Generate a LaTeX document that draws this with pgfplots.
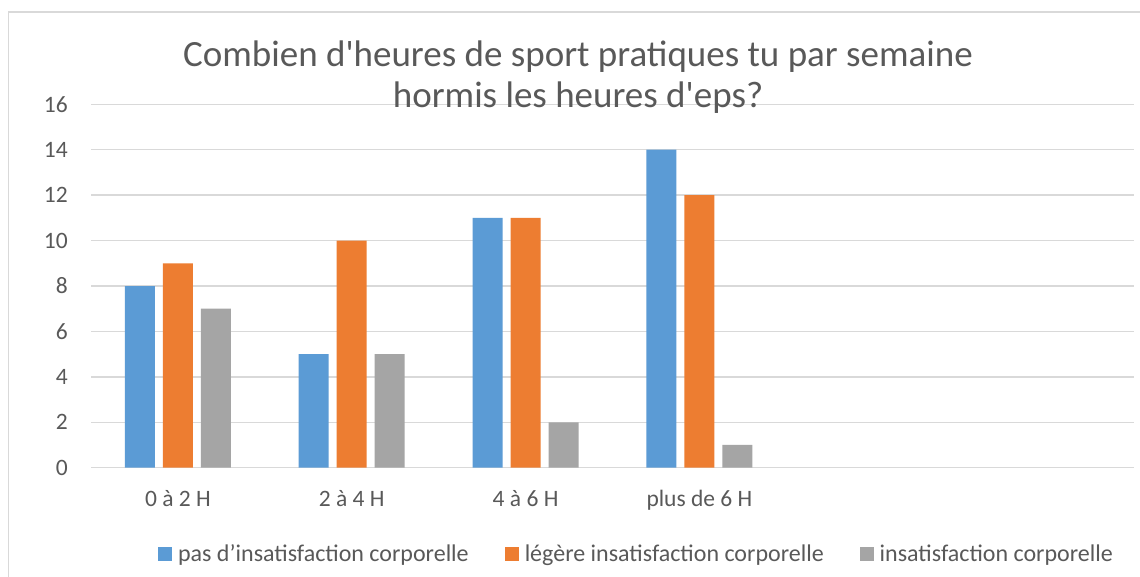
\documentclass[border=0pt]{standalone}
\usepackage{fontspec}
\setmainfont{Carlito}
\newfontfamily\carl{Carlito}
\usepackage{pgfplots}
\pgfplotsset{compat=1.18}
\definecolor{cblue}{HTML}{5B9BD5}
\definecolor{corange}{HTML}{ED7D31}
\definecolor{cgray}{HTML}{A5A5A5}
\definecolor{ctext}{HTML}{595959}
\definecolor{cgrid}{HTML}{D9D9D9}
\begin{document}
\begin{tikzpicture}
\path[use as bounding box] (0pt,0pt) rectangle (1140pt,576pt);
\fill[white] (0pt,0pt) rectangle (1140pt,576pt);
\draw[cgrid, line width=1.3pt] (8.5pt,-20pt) rectangle (1160pt,564pt);
\begin{axis}[
  at={(91pt,108.3pt)}, anchor=south west, scale only axis,
  width=1043pt, height=363.4pt,
  xmin=-0.5, xmax=5.5, ymin=0, ymax=16,
  ybar=8pt, bar width=30pt,
  xtick={0,1,2,3}, xticklabels={0 à 2 H, 2 à 4 H, 4 à 6 H, plus de 6 H},
  ytick={0,2,...,16},
  ymajorgrids, grid style={cgrid, line width=1.3pt},
  axis line style={draw=none}, major tick length=0pt,
  tick label style={font=\carl\fontsize{23.5}{28}\selectfont, text=ctext},
  /pgf/number format/assume math mode=true,
  yticklabel style={anchor=east, inner sep=0pt, xshift=-23pt},
  xticklabel style={anchor=base, inner sep=0pt, yshift=-39pt},
  legend columns=3,
  legend style={at={(0.522,-0.237)}, anchor=center, draw=none, fill=none,
    inner sep=0pt, nodes={inner sep=0pt},
    font=\carl\fontsize{24}{28}\selectfont, text=ctext,
    /tikz/every odd column/.append style={column sep=6pt},
    /tikz/every even column/.append style={column sep=36pt}},
  legend image code/.code={\fill[#1] (0pt,-7pt) rectangle (14pt,7pt);},
]
\addplot[fill=cblue, draw=none] coordinates {(0,8) (1,5) (2,11) (3,14)};
\addplot[fill=corange, draw=none] coordinates {(0,9) (1,10) (2,11) (3,12)};
\addplot[fill=cgray, draw=none] coordinates {(0,7) (1,5) (2,2) (3,1)};
\legend{pas d’insatisfaction corporelle, légère insatisfaction corporelle, insatisfaction corporelle}
\end{axis}
\node[anchor=base, text=ctext, font=\carl\fontsize{37}{44}\selectfont, inner sep=0pt] at (578pt,509pt) {Combien d'heures de sport pratiques tu par semaine};
\node[anchor=base, text=ctext, font=\carl\fontsize{37}{44}\selectfont, inner sep=0pt] at (578pt,468pt) {hormis les heures d'eps?};
\end{tikzpicture}
\end{document}
